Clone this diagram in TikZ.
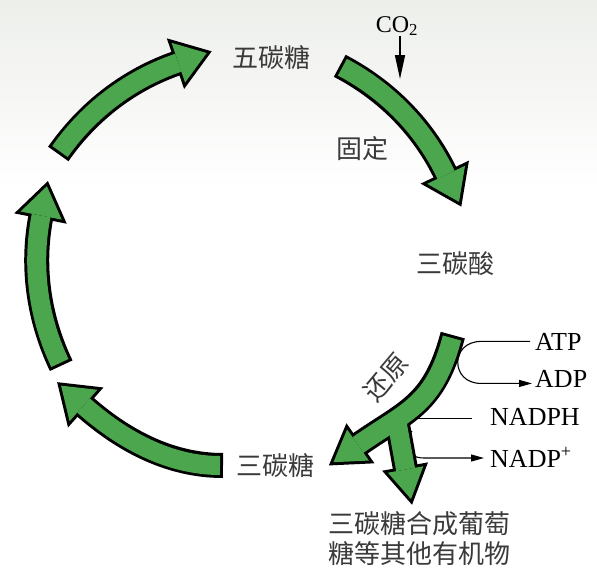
\documentclass[tikz,border=0pt]{standalone}
\usepackage{fontspec}
\setmainfont{Liberation Serif}
\newfontfamily\cjk{Noto Sans CJK SC}
\usetikzlibrary{arrows.meta,calc}
\definecolor{leafgreen}{HTML}{4CA64D}
\definecolor{labelgray}{HTML}{3A3A3A}
\definecolor{skygray}{HTML}{EDEFEB}
\tikzset{
  stage/.style={font=\cjk\fontsize{26pt}{30pt}\selectfont, text=labelgray,
    inner sep=0pt, align=center},
  chem/.style={font=\fontsize{26pt}{30pt}\selectfont, inner sep=0pt},
  reagent/.style={line width=1.1pt},
  intake/.style={-{Triangle[length=24pt,width=10pt]}, line width=1.5pt},
  release/.style={-{Triangle[length=13pt,width=7pt]}, line width=1.1pt},
  outline/.style={shaft/.style={line width=25pt, shorten <=-3pt},
    head/.style={fill=black, draw=black, line width=6pt, line join=miter}},
  body/.style={shaft/.style={line width=19pt, draw=leafgreen},
    head/.style={fill=leafgreen}}
}
% block arrow: tail, two controls, head base, half width of the head
\newcommand{\cycarrow}[5]{%
  \draw[shaft] (#1) .. controls (#2) and (#3) .. (#4);
  \path[head] ($(#4)!#5!90:(#3)$) -- ($(#4)!-30pt!(#3)$)
    -- ($(#4)!#5!-90:(#3)$) -- cycle;}
\newcommand{\calvinarrows}{%
  \cycarrow{60,151.5}{89,110.1}{130.5,79}{178.3,62.7}{21pt}
  \cycarrow{342.4,67.2}{387.7,90.9}{424.1,128.7}{446.1,174.8}{21pt}
  \cycarrow{452,338}{433.9,405.6}{407.1,410.6}{358,445}{19pt}
  \cycarrow{396.5,419.5}{399.2,434.3}{402.9,454.7}{405.6,469.5}{18pt}
  \cycarrow{220,465.5}{168.7,465.5}{121.9,439.5}{83.5,405.5}{21pt}
  \cycarrow{59.9,363}{38,317.2}{31.3,265.4}{41.1,215.6}{21pt}}

\begin{document}
\begin{tikzpicture}[x=1pt, y=-1pt]
\useasboundingbox (0,0) rectangle (597,570);
\shade[top color=skygray, bottom color=white] (0,0) rectangle (597,190);

% labels
\node[stage] (pentose) at (271,58) {五碳糖};
\node[stage] (fixation) at (362,149) {固定};
\node[stage] (pga) at (455,264) {三碳酸};
\node[stage] (triose) at (275,466) {三碳糖};
\node[stage, rotate=50] (reduction) at (386,377) {还原};
\node[stage] (product) at (419,539) {三碳糖合成葡萄\\糖等其他有机物};
\node[chem, font=\fontsize{24pt}{28pt}\selectfont, anchor=base] (co2) at (397,32) {CO\textsubscript{2}};
\node[chem, anchor=base west] (atp) at (535,350) {ATP};
\node[chem, anchor=base west] (adp) at (535,387) {ADP};
\node[chem, anchor=base west] (nadph) at (490,425) {NADPH};
\node[chem, anchor=base west] (nadpp) at (490,467) {NADP\textsuperscript{+}};

% energy carriers, partly hidden under the arrows
\draw[release] ($(atp.west)+(-5,0)$) -- ++(-49,0)
  .. controls +(-31,0) and +(-31,0) .. ++(0,42) -- ($(adp.west)+(-3,5)$);
\draw[reagent] ($(nadph.west)+(-18,2)$) -- ++(-62,0);
\draw[release] (412,431) .. controls (401,440) and (404,458) .. (424,458)
  -- ($(nadpp.base west)+(-6,-9)$);

% the cycle
\begin{scope}[outline] \calvinarrows \end{scope}
\begin{scope}[body] \calvinarrows \end{scope}

\coordinate (fixin) at (400,79);
\draw[intake] (co2.south -| fixin) -- (fixin);
\end{tikzpicture}
\end{document}
